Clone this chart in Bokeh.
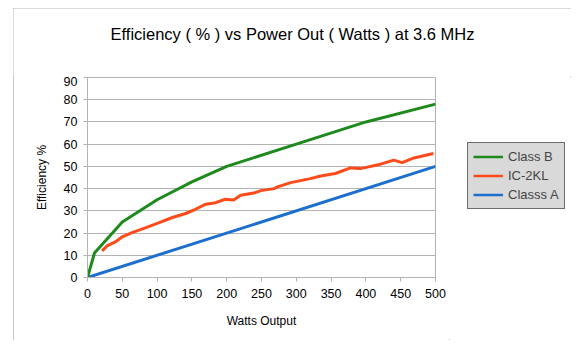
from bokeh.plotting import figure
from bokeh.models import Range1d, Legend, LegendItem, FixedTicker, Label
from bokeh.layouts import column, row
from bokeh.embed import file_html
from bokeh.resources import INLINE

# ---- data ----
title_text = "Efficiency ( % ) vs Power Out ( Watts ) at 3.6 MHz"
x_label = "Watts Output"
y_label = "Efficiency %"
x_ticks = [0, 50, 100, 150, 200, 250, 300, 350, 400, 450, 500]
y_ticks = [0, 10, 20, 30, 40, 50, 60, 70, 80, 90]

watts_b = [0, 10, 50, 100, 150, 200, 300, 400, 500]
eff_b = [0, 11, 25, 35, 43, 50, 60, 70, 78]

watts_ic = [21, 28, 40, 50, 64, 83, 103, 122, 141, 155, 170, 182, 198, 210, 220,
            239, 249, 268, 273, 292, 320, 335, 356, 378, 392, 421, 440, 452, 469, 497]
eff_ic = [12, 14.2, 16, 18.3, 20.2, 22.3, 24.7, 27, 28.8, 30.7, 33, 33.5, 35.2, 34.9, 37,
          38, 39.1, 40, 40.8, 42.7, 44.5, 45.7, 46.8, 49.3, 49, 51, 52.8, 51.7, 53.8, 55.8]

watts_a = [0, 500]
eff_a = [0, 50]

series_names = ["Class B", "IC-2KL", "Classs A"]
series_colors = ["#1e8a1e", "#ff4a1a", "#1c6fcd"]

FONT = "Liberation Sans"
GRID = "#b3b3b3"
NAN = float("nan")


def blank(fig):
    fig.grid.visible = False
    fig.outline_line_color = None
    fig.background_fill_color = "white"
    fig.border_fill_color = "white"
    return fig


# ---- title strip ----
tf = blank(figure(width=558, height=68, output_backend="svg", toolbar_location=None,
                  x_range=Range1d(0, 1), y_range=Range1d(0, 1),
                  x_axis_location=None, y_axis_location=None,
                  min_border_left=0, min_border_right=0, min_border_top=0,
                  min_border_bottom=0))
tf.add_layout(Label(x=0.5, y=0.62, text=title_text, text_align="center",
                    text_baseline="middle", text_font=FONT, text_font_size="16.5px",
                    text_color="#000000"))

# ---- main chart ----
p = figure(width=436, height=264, output_backend="svg", toolbar_location=None,
           x_range=Range1d(0, 500), y_range=Range1d(0, 90),
           min_border_left=74, min_border_right=14, min_border_top=1, min_border_bottom=63)
p.background_fill_color = "white"
p.border_fill_color = "white"
p.outline_line_color = GRID

for ax in (p.xaxis[0], p.yaxis[0]):
    ax.axis_line_color = GRID
    ax.major_tick_line_color = GRID
    ax.major_tick_out = 4
    ax.major_tick_in = 0
    ax.minor_tick_line_color = None
    ax.major_label_text_font = FONT
    ax.major_label_text_font_size = "12.5px"
    ax.major_label_text_color = "#000000"
    ax.axis_label_text_font = FONT
    ax.axis_label_text_font_size = "12px"
    ax.axis_label_text_font_style = "normal"
    ax.axis_label_text_color = "#000000"
p.xaxis[0].ticker = FixedTicker(ticks=x_ticks)
p.yaxis[0].ticker = FixedTicker(ticks=y_ticks)
p.xaxis[0].major_label_standoff = 7
p.yaxis[0].major_label_standoff = 6
p.xaxis[0].axis_label = x_label
p.yaxis[0].axis_label = y_label
p.xaxis[0].axis_label_standoff = 13
p.yaxis[0].axis_label_standoff = 12

p.xgrid.grid_line_color = None
p.ygrid.grid_line_color = GRID
p.ygrid.ticker = FixedTicker(ticks=y_ticks)

p.line(watts_a, eff_a, line_color=series_colors[2], line_width=3, line_join="round")
p.line(watts_ic, eff_ic, line_color=series_colors[1], line_width=3, line_join="round")
p.line(watts_b, eff_b, line_color=series_colors[0], line_width=3, line_join="round")

# ---- legend strip ----
lf = blank(figure(width=122, height=264, output_backend="svg", toolbar_location=None,
                  x_range=Range1d(0, 1), y_range=Range1d(0, 1),
                  x_axis_location=None, y_axis_location=None,
                  min_border_left=0, min_border_right=0, min_border_top=0,
                  min_border_bottom=0))
keys = [lf.line(x=[NAN], y=[NAN], line_color=c, line_width=2.5) for c in series_colors]
legend = Legend(items=[LegendItem(label=n, renderers=[r]) for n, r in zip(series_names, keys)],
                location=(18, 68))
legend.background_fill_color = "#d9d9d9"
legend.background_fill_alpha = 1
legend.border_line_color = "#000000"
legend.border_line_width = 1
legend.label_text_font = FONT
legend.label_text_font_size = "13px"
legend.label_standoff = 5
legend.glyph_width = 30
legend.glyph_height = 17
legend.spacing = 2
legend.padding = 5
legend.margin = 0
lf.add_layout(legend)

page = column(tf, row(p, lf, spacing=0), spacing=0)
page.margin = (8, 0, 0, 13)
page.styles = {"outline": "1px solid #b4b4b4", "outline-offset": "-1px"}

open("out.html", "w").write(file_html(page, INLINE))
